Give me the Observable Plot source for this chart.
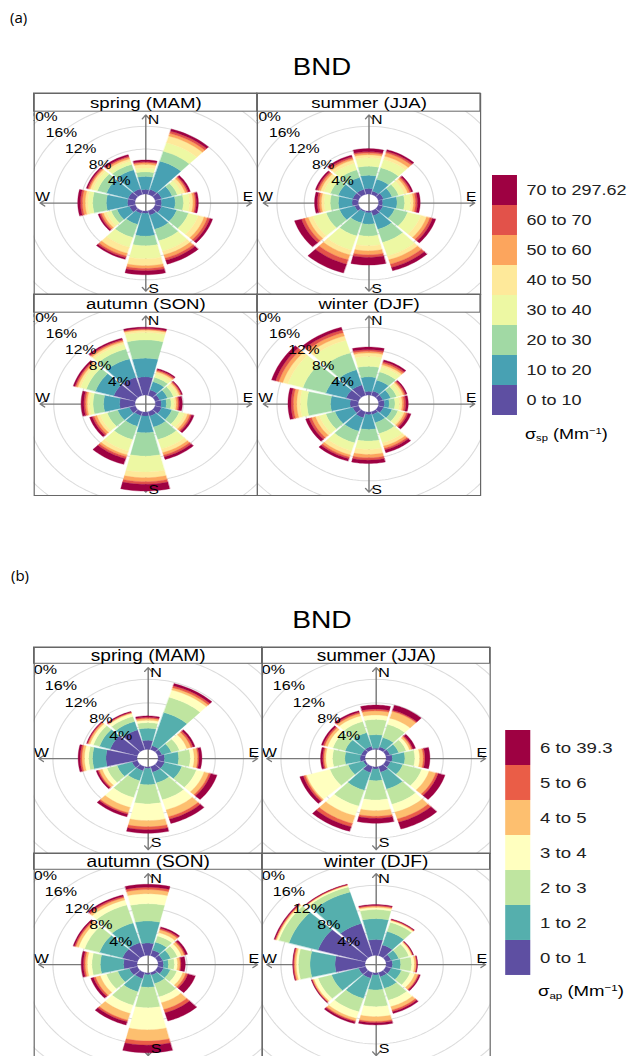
<!DOCTYPE html>
<html><head><meta charset="utf-8">
<script src="https://cdn.jsdelivr.net/npm/d3@7"></script>
<script src="https://cdn.jsdelivr.net/npm/@observablehq/plot@0.6"></script>
<style>
html,body{margin:0;padding:0;background:#fff;overflow:hidden;width:631px;height:1056px;}
#stage{position:absolute;left:0;top:0;width:526px;height:1056px;transform:scaleX(1.2);transform-origin:0 0;font-family:"Liberation Sans",Arial,sans-serif;color:#000;}
.abs{position:absolute;line-height:1;white-space:nowrap;}
.tag{position:absolute;font-family:"Open Sans",sans-serif;font-size:15px;line-height:1;color:#000;}
.lt sub{font-size:0.62em;vertical-align:-0.25em;}
.lt sup{font-size:0.62em;vertical-align:0.55em;}
</style></head><body>
<div class="tag" style="left:10px;top:10px">(a)</div>
<div class="tag" style="left:11px;top:568px">(b)</div>
<div id="stage"></div>
<script>
// ---------- data ----------
const directions = [0, 30, 60, 90, 120, 150, 180, 210, 240, 270, 300, 330];
const seasonNames = ["spring (MAM)", "summer (JJA)", "autumn (SON)", "winter (DJF)"];
const pctTicks = [4, 8, 12, 16, 20];
const compass = ["N", "E", "S", "W"];
const binsA = ["0 to 10","10 to 20","20 to 30","30 to 40","40 to 50","50 to 60","60 to 70","70 to 297.62"];
const binsB = ["0 to 1","1 to 2","2 to 3","3 to 4","4 to 5","5 to 6","6 to 39.3"];

// cumulative % frequency (upper edge of each band), per direction N, 30, 60 ... 330
const springA = [
 [0.8,3.1,3.9,4.6,5.2,5.5,5.7,6.0],[0.9,6.1,7.9,9.5,10.7,11.2,11.6,12.0],[1.0,2.6,3.4,4.1,4.6,4.9,5.1,5.4],
 [0.9,2.9,4.1,5.0,5.5,5.8,6.0,6.3],[1.0,3.3,5.1,6.6,7.5,8.0,8.4,8.8],[0.8,3.4,5.5,7.4,8.1,8.7,9.1,9.8],
 [0.4,4.4,6.1,8.4,9.6,10.1,10.5,11.2],[0.5,2.5,4.9,6.7,7.8,8.3,8.6,8.9],[0.9,2.8,3.7,4.4,4.9,5.2,5.45,5.7],
 [1.1,4.2,6.2,6.9,7.3,7.7,8.0,8.4],[1.1,4.4,5.8,6.5,6.9,7.1,7.3,7.5],[1.0,4.5,5.5,6.1,6.5,6.8,7.0,7.3]];
const summerA = [
 [1.0,3.3,4.9,6.4,6.9,7.2,7.45,8.0],[0.6,2.8,4.9,6.4,7.0,7.6,7.9,8.2],[0.8,2.1,3.1,4.0,4.5,4.8,5.05,5.3],
 [0.6,2.7,3.8,4.7,5.1,5.4,5.7,6.1],[0.7,2.5,4.5,6.5,7.4,7.9,8.3,8.8],[0.9,3.4,5.8,8.3,9.0,9.8,10.4,11.0],
 [0.3,2.3,4.4,6.1,7.0,7.7,8.15,9.5],[0.2,2.2,4.6,7.2,8.1,9.0,9.8,11.4],[0.6,2.9,4.95,7.0,7.7,8.25,8.75,9.8],
 [0.9,2.9,4.1,5.0,5.4,5.7,6.0,6.4],[0.9,3.1,4.3,5.3,5.8,6.1,6.35,6.6],[0.9,3.1,4.5,5.7,6.3,6.6,6.9,7.2]];
const autumnA = [
 [3.2,6.5,9.7,11.0,11.4,11.55,11.7,11.95],[1.0,2.5,3.3,3.9,4.3,4.5,4.7,4.9],[0.7,1.9,2.8,3.4,3.7,3.9,4.05,4.2],
 [0.85,1.6,2.3,2.75,3.05,3.3,3.5,3.95],[1.0,2.55,3.7,4.5,5.0,5.35,5.6,5.95],[0.8,2.8,5.1,6.8,7.5,7.95,8.3,8.75],
 [0.7,3.65,7.75,10.55,11.55,12.25,12.7,13.9],[0.7,2.65,5.1,7.2,7.9,8.25,8.6,9.65],[0.9,2.7,4.3,5.4,5.9,6.3,6.6,7.0],
 [2.25,4.6,6.15,6.65,7.0,7.25,7.5,7.9],[3.3,6.1,7.5,8.4,8.8,9.05,9.25,9.5],[3.3,6.7,8.5,9.4,9.8,10.05,10.25,10.5]];
const winterA = [
 [0.65,3.2,5.05,6.8,7.4,7.7,8.0,8.45],[0.8,2.8,4.3,5.2,5.6,5.9,6.2,6.5],[0.7,1.9,2.8,3.4,3.8,4.0,4.2,4.4],
 [0.85,1.55,2.4,3.05,3.45,3.7,4.0,4.35],[0.8,2.1,3.0,3.7,4.0,4.3,4.55,5.0],[0.5,2.0,4.0,5.7,6.3,6.7,7.0,7.5],
 [0.45,3.05,5.1,6.55,7.45,8.05,8.45,9.05],[1.1,3.55,5.7,7.15,7.9,8.3,8.6,9.05],[0.9,3.6,5.0,6.0,6.6,7.2,7.6,8.1],
 [1.2,4.05,7.5,8.5,9.0,9.5,9.85,10.3],[1.9,5.0,8.5,10.8,11.6,12.2,12.7,13.3],[1.9,4.7,7.8,10.1,10.9,11.5,12.0,12.5]];

const springB = [
 [1.55,3.6,4.55,4.95,5.25,5.45,5.7],[0.7,6.6,9.3,10.6,11.0,11.35,11.75],[0.6,2.0,3.2,4.3,4.9,5.2,5.5],
 [0.9,2.9,4.55,5.1,5.6,5.8,6.2],[1.0,3.55,5.7,6.85,7.55,7.85,8.75],[1.0,2.9,5.9,7.7,8.9,9.35,10.1],
 [0.25,3.05,6.3,9.15,10.2,10.7,11.3],[0.75,2.5,5.5,7.25,8.2,8.45,8.9],[0.8,3.0,4.5,5.2,5.65,5.85,6.1],
 [4.4,6.3,6.85,7.45,7.8,8.05,8.35],[4.0,5.6,6.5,7.0,7.25,7.4,7.5],[3.5,5.0,5.9,6.4,6.55,6.65,6.8]];
const summerB = [
 [0.2,2.5,5.1,5.85,6.55,6.85,7.55],[0.5,2.15,4.5,5.6,6.8,7.0,7.9],[0.6,1.9,3.0,3.5,3.8,4.0,4.4],
 [0.85,2.65,4.05,4.75,5.25,5.5,6.2],[0.7,2.5,5.3,6.4,7.4,7.75,8.75],[1.0,4.0,6.7,8.1,9.3,9.9,11.1],
 [0.35,2.35,5.65,7.45,8.4,8.75,9.6],[1.05,4.2,7.0,8.75,10.1,10.7,11.5],[0.3,2.55,5.25,8.7,8.9,9.2,9.7],
 [0.7,2.85,4.6,5.55,5.8,6.0,6.3],[0.6,3.0,4.8,5.6,6.0,6.25,6.5],[0.6,3.0,5.0,6.0,6.4,6.65,6.9]];
const autumnB = [
 [2.1,5.85,8.8,10.5,11.2,11.6,12.1],[1.0,2.4,3.5,4.1,4.6,4.85,5.1],[0.7,1.9,2.9,3.5,3.9,4.1,4.4],
 [0.75,1.45,2.3,2.75,3.1,3.25,3.85],[0.85,1.85,2.8,3.7,4.15,4.45,5.55],[0.45,1.95,4.3,5.35,6.55,7.15,8.6],
 [0.3,2.45,5.95,9.7,11.6,12.3,13.6],[1.05,3.4,5.8,7.25,8.45,8.75,9.3],[1.2,2.9,4.6,5.5,6.2,6.5,6.9],
 [1.9,5.2,6.4,7.05,7.35,7.6,7.9],[2.2,5.6,7.8,8.7,9.1,9.3,9.5],[2.3,5.8,9.0,9.9,10.3,10.55,10.8]];
const winterB = [
 [2.7,6.25,7.8,8.15,8.35,8.5,8.65],[1.9,4.3,5.9,6.2,6.3,6.4,6.5],[0.8,1.9,3.4,3.8,3.95,4.0,4.1],
 [0.9,2.05,3.6,4.0,4.25,4.35,4.45],[0.8,2.3,3.6,4.3,4.75,4.9,5.1],[0.75,2.8,4.9,6.05,6.65,6.95,7.25],
 [0.35,2.9,5.75,7.45,8.25,8.5,8.85],[1.0,4.6,6.95,8.15,8.55,8.75,9.05],[1.0,5.0,7.0,7.6,7.8,7.9,8.0],
 [4.25,7.8,9.45,9.75,10.0,10.15,10.25],[7.0,11.3,12.8,13.1,13.25,13.35,13.5],[5.7,11.3,12.2,12.45,12.55,12.6,12.7]];

// ---------- drawing ----------
const FONT = "'Liberation Sans', Arial, Helvetica, sans-serif";
const OFF = 1.5, MM = 15.5, HALF = 13.5;
const spectral = ["#5E4FA2","#3288BD","#66C2A5","#ABDDA4","#E6F598","#FFFFBF","#FEE08B","#FDAE61","#F46D43","#D53E4F","#9E0142"];
const ramp = d3.piecewise(d3.interpolateRgb, spectral);
const rad = d => d * Math.PI / 180;

function rose(cfg) {
  const {cums, bins, cellW, panelH, stripH, s, fs, sDy} = cfg;
  const colors = d3.quantize(ramp, bins.length);
  const XH = cellW / (2 * s), YH = panelH / (2 * s), ST = stripH / s;
  const facets = seasonNames.map((name, i) => ({name, col: i % 2, row: Math.floor(i / 2)}));
  const bands = [];
  cums.forEach((cum, i) => {
    const {col, row} = facets[i];
    directions.forEach((dir, j) => {
      let prev = 0;
      cum[j].forEach((c, k) => {
        const id = i + "-" + j + "-" + k;
        for (let t = 0; t <= 12; t++) {
          const a = rad(dir - HALF + 2 * HALF * t / 12);
          bands.push({id, col, row, bin: bins[k],
            x1: (OFF + prev) * Math.sin(a), y1: (OFF + prev) * Math.cos(a),
            x2: (OFF + c) * Math.sin(a), y2: (OFF + c) * Math.cos(a)});
        }
        prev = c;
      });
    });
  });
  const rings = pctTicks.flatMap(p => d3.range(0, 361, 2).map(deg => ({p, x: (OFF + p) * Math.sin(rad(deg)), y: (OFF + p) * Math.cos(rad(deg))})));
  const ringLabels = pctTicks.map(p => ({label: p + "%", x: (OFF + p) * Math.sin(rad(315)), y: (OFF + p) * Math.cos(rad(315))}));
  const axes = compass.map((c, i) => ({c, x1: 0, y1: 0, x2: MM * Math.sin(rad(90 * i)), y2: MM * Math.cos(rad(90 * i))}));
  const letterStyle = {N: [6.5, 5], E: [-3, -6], S: [6.5, sDy], W: [2, -6]};
  const letters = axes.map(a => Plot.text([a], {x: "x2", y: "y2", text: "c", dx: letterStyle[a.c][0], dy: letterStyle[a.c][1], fontSize: 13 * fs, clip: true}));

  return Plot.plot({
    width: 2 * cellW + 2, height: 2 * (panelH + stripH) + 2,
    marginTop: 1, marginRight: 1, marginBottom: 1, marginLeft: 1,
    style: {fontFamily: FONT, fontSize: "13px", background: "transparent", overflow: "visible"},
    x: {domain: [-XH, XH], axis: null},
    y: {domain: [-YH, YH + ST], axis: null},
    fx: {domain: [0, 1], padding: 0, axis: null},
    fy: {domain: [0, 1], padding: 0, axis: null},
    color: {domain: bins, range: colors},
    marks: [
      Plot.line(rings, {x: "x", y: "y", z: "p", stroke: "#dcdcdc", strokeWidth: 1, clip: true}),
      Plot.arrow(axes, {x1: "x1", y1: "y1", x2: "x2", y2: "y2", stroke: "#7a7a7a", strokeWidth: 1.2, headLength: 6, headAngle: 75, clip: true}),
      Plot.area(bands, {x1: "x1", y1: "y1", x2: "x2", y2: "y2", z: "id", fill: "bin", stroke: "bin", strokeWidth: 0.3, fx: "col", fy: "row", clip: true}),
      Plot.text(ringLabels, {x: "x", y: "y", text: "label", fontSize: 13 * fs, clip: true}),
      ...letters,
      Plot.rect(facets, {fx: "col", fy: "row", x1: () => -XH, x2: () => XH, y1: () => YH, y2: () => YH + ST, fill: "white", stroke: "#666"}),
      Plot.text(facets, {fx: "col", fy: "row", x: () => 0, y: () => YH + ST / 2, text: "name", fontSize: 15.5 * fs}),
      Plot.frame({stroke: "#666"})
    ]
  });
}

function legend(cfg) {
  const {bins, boxW, boxH, gap, width, fs} = cfg;
  const colors = d3.quantize(ramp, bins.length);
  return Plot.plot({
    width, height: boxH * bins.length,
    marginTop: 0, marginBottom: 0, marginLeft: 0, marginRight: width - boxW,
    style: {fontFamily: FONT, fontSize: "15px", background: "transparent", overflow: "visible"},
    x: {domain: [0, 1], axis: null},
    y: {domain: bins.slice().reverse(), axis: null, padding: 0},
    color: {domain: bins, range: colors},
    marks: [
      Plot.barX(bins, {x1: () => 0, x2: () => 1, y: d => d, fill: d => d}),
      Plot.text(bins, {y: d => d, text: d => d, frameAnchor: "right", dx: gap, textAnchor: "start", fontSize: fs, fill: "#222"})
    ]
  });
}

const stage = document.getElementById("stage");
function place(el, left, top, w) {
  const d = document.createElement("div");
  d.className = "abs";
  d.style.left = left + "px"; d.style.top = top + "px";
  if (w) d.style.width = w + "px";
  d.appendChild(el);
  stage.appendChild(d);
  return d;
}
function html(str, left, top, size, extra) {
  const d = document.createElement("div");
  d.className = "abs " + (extra || "");
  d.style.left = left + "px"; d.style.top = top + "px"; d.style.fontSize = size + "px";
  d.innerHTML = str;
  stage.appendChild(d);
  return d;
}

// panel (a)
const tA = html("BND", 168.3, 55.5, 23);
tA.style.width = "200px"; tA.style.textAlign = "center";
const roseA = rose({cums: [springA, summerA, autumnA, winterA], bins: binsA, cellW: 186.25, panelH: 183, stripH: 18.2, s: 5.69, fs: 1, sDy: -2.5});
place(roseA, 27.33, 91.7, 2 * 186.25 + 2);
place(legend({bins: binsA, boxW: 20.8, boxH: 30, gap: 7.5, width: 116.25, fs: 15}), 409.75, 175, 116.25);
html("σ<sub>sp</sub> (Mm<sup>−1</sup>)", 437.5, 426, 15, "lt");

// panel (b)
const tB = html("BND", 168.3, 608.5, 23.5);
tB.style.width = "200px"; tB.style.textAlign = "center";
const roseB = rose({cums: [springB, summerB, autumnB, winterB], bins: binsB, cellW: 190, panelH: 190, stripH: 16.3, s: 5.88, fs: 1.03, sDy: -6.5});
place(roseB, 27.33, 645.7, 2 * 190 + 2);
place(legend({bins: binsB, boxW: 20.9, boxH: 35.24, gap: 7.7, width: 105.2, fs: 15.5}), 420.8, 729.3, 105.2);
html("σ<sub>ap</sub> (Mm<sup>−1</sup>)", 448.3, 983, 15.5, "lt");
</script>
</body></html>
